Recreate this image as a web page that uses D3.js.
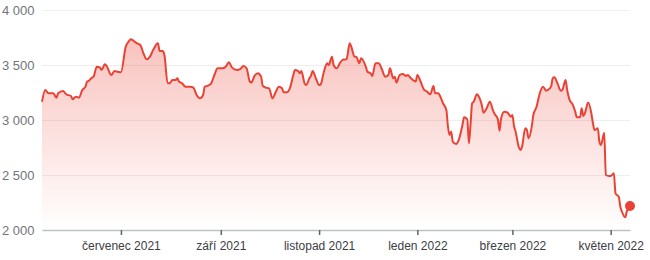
<!DOCTYPE html>
<html>
<head>
<meta charset="utf-8">
<script src="https://cdn.jsdelivr.net/npm/d3@7"></script>
<style>
  body { margin: 0; background: #fff; }
  svg { display: block; font-family: Roboto, "Noto Sans", sans-serif; }
</style>
</head>
<body>
<div id="chart"></div>
<script>
// price series
var dates = [
  "2021-05-13","2021-05-15","2021-05-17","2021-05-20","2021-05-22","2021-05-23","2021-05-26","2021-05-28","2021-05-31","2021-06-01",
  "2021-06-03","2021-06-05","2021-06-07","2021-06-09","2021-06-10","2021-06-11","2021-06-13","2021-06-14","2021-06-16","2021-06-18",
  "2021-06-19","2021-06-21","2021-06-22","2021-06-25","2021-06-27","2021-06-29","2021-07-01","2021-07-04","2021-07-06","2021-07-07",
  "2021-07-09","2021-07-11","2021-07-13","2021-07-15","2021-07-17","2021-07-19","2021-07-21","2021-07-24","2021-07-25","2021-07-27",
  "2021-07-28","2021-07-30","2021-07-31","2021-08-02","2021-08-04","2021-08-05","2021-08-06","2021-08-08","2021-08-10","2021-08-13",
  "2021-08-15","2021-08-17","2021-08-19","2021-08-21","2021-08-22","2021-08-24","2021-08-26","2021-08-28","2021-08-30","2021-09-02",
  "2021-09-04","2021-09-06","2021-09-08","2021-09-11","2021-09-13","2021-09-15","2021-09-17","2021-09-19","2021-09-20","2021-09-22",
  "2021-09-24","2021-09-26","2021-09-27","2021-09-29","2021-10-01","2021-10-03","2021-10-05","2021-10-07","2021-10-09","2021-10-10",
  "2021-10-12","2021-10-14","2021-10-16","2021-10-17","2021-10-19","2021-10-20","2021-10-21","2021-10-23","2021-10-24","2021-10-26",
  "2021-10-27","2021-10-28","2021-10-30","2021-11-01","2021-11-02","2021-11-04","2021-11-06","2021-11-07","2021-11-09","2021-11-10",
  "2021-11-12","2021-11-14","2021-11-16","2021-11-18","2021-11-20","2021-11-21","2021-11-23","2021-11-24","2021-11-26","2021-11-27",
  "2021-11-30","2021-12-01","2021-12-03","2021-12-04","2021-12-06","2021-12-08","2021-12-10","2021-12-12","2021-12-14","2021-12-15",
  "2021-12-17","2021-12-18","2021-12-19","2021-12-21","2021-12-23","2021-12-25","2021-12-26","2021-12-28","2021-12-31","2022-01-01",
  "2022-01-03","2022-01-05","2022-01-07","2022-01-09","2022-01-11","2022-01-12","2022-01-14","2022-01-15","2022-01-17","2022-01-19",
  "2022-01-20","2022-01-21","2022-01-22","2022-01-23","2022-01-25","2022-01-27","2022-01-29","2022-01-30","2022-02-01","2022-02-02",
  "2022-02-03","2022-02-04","2022-02-05","2022-02-07","2022-02-08","2022-02-10","2022-02-11","2022-02-13","2022-02-15","2022-02-17",
  "2022-02-18","2022-02-20","2022-02-21","2022-02-22","2022-02-24","2022-02-26","2022-02-28","2022-03-01","2022-03-02","2022-03-03",
  "2022-03-05","2022-03-06","2022-03-07","2022-03-09","2022-03-10","2022-03-11","2022-03-13","2022-03-14","2022-03-16","2022-03-18",
  "2022-03-20","2022-03-22","2022-03-23","2022-03-25","2022-03-26","2022-03-27","2022-03-29","2022-03-31","2022-04-01","2022-04-03",
  "2022-04-04","2022-04-06","2022-04-07","2022-04-09","2022-04-10","2022-04-12","2022-04-13","2022-04-14","2022-04-15","2022-04-17",
  "2022-04-19","2022-04-20","2022-04-21","2022-04-23","2022-04-24","2022-04-25","2022-04-27","2022-04-28","2022-04-30","2022-05-01",
  "2022-05-03","2022-05-04","2022-05-06","2022-05-07","2022-05-08","2022-05-10","2022-05-11","2022-05-13"
];

var prices = [
  3166,3273,3243,3243,3203,3243,3264,3234,3218,3188,
  3212,3203,3273,3303,3350,3355,3385,3394,3485,3476,
  3455,3506,3494,3409,3445,3439,3433,3667,3718,3734,
  3718,3697,3682,3606,3552,3576,3636,3697,3627,3627,
  3591,3333,3333,3364,3364,3379,3350,3333,3303,3303,
  3294,3227,3197,3227,3303,3312,3333,3409,3470,3470,
  3485,3524,3476,3455,3462,3491,3470,3350,3342,3403,
  3424,3394,3312,3294,3288,3197,3252,3303,3288,3252,
  3252,3294,3409,3455,3445,3424,3445,3333,3318,3379,
  3403,3445,3379,3318,3324,3439,3515,3500,3576,3500,
  3470,3520,3550,3552,3697,3667,3576,3576,3515,3561,
  3485,3439,3424,3400,3515,3515,3461,3394,3409,3470,
  3379,3394,3340,3409,3418,3400,3409,3379,3350,3409,
  3350,3279,3258,3234,3309,3243,3243,3220,3150,3091,
  2939,2864,2894,2803,2782,2833,2955,3024,3006,2788,
  2955,3152,3167,3234,3218,3136,3067,3106,3167,3085,
  3055,3006,2903,3015,3076,3067,3030,3045,2945,2894,
  2752,2727,2758,2924,2909,2833,2939,3045,3121,3243,
  3303,3267,3273,3303,3379,3388,3333,3267,3273,3364,
  3273,3167,3152,3076,3024,3024,3106,3036,3061,3158,
  3061,2970,2909,2924,2803,2773,2885,2500,2491,2491,
  2515,2333,2303,2212,2167,2115,2167,2218
];

var yTicks = [2000, 2500, 3000, 3500, 4000];
var yTickLabels = ["2 000", "2 500", "3 000", "3 500", "4 000"];

var xTicks = ["2021-07-01", "2021-09-01", "2021-11-01", "2022-01-01", "2022-03-01", "2022-05-01"];
var xTickLabels = ["červenec 2021", "září 2021", "listopad 2021", "leden 2022", "březen 2022", "květen 2022"];

var width = 650, height = 260;
var plotLeft = 42, plotRight = 630, plotTop = 10, plotBottom = 230;
var red = "#ea4335";

var parse = d3.utcParse("%Y-%m-%d");
var data = dates.map(function(d, i) { return { date: parse(d), value: prices[i] }; });

var svg = d3.select("#chart")
  .append("svg")
  .attr("width", width)
  .attr("height", height);

var xScale = d3.scaleUtc()
  .domain([parse("2021-05-13"), parse("2022-05-13")])
  .range([plotLeft, plotRight]);

var yScale = d3.scaleLinear()
  .domain([2000, 4000])
  .range([plotBottom, plotTop]);

// gradient under the line
var grad = svg.append("defs").append("linearGradient")
  .attr("id", "fade")
  .attr("gradientUnits", "userSpaceOnUse")
  .attr("x1", 0).attr("x2", 0)
  .attr("y1", yScale(d3.max(prices)))
  .attr("y2", plotBottom);
grad.append("stop").attr("offset", "0%").attr("stop-color", red).attr("stop-opacity", 0.32);
grad.append("stop").attr("offset", "100%").attr("stop-color", red).attr("stop-opacity", 0);

// grid lines + y labels
var yAxis = d3.axisLeft(yScale)
  .tickValues(yTicks)
  .tickFormat(function(d, i) { return yTickLabels[i]; })
  .tickSize(-(plotRight - plotLeft))
  .tickPadding(8);

var gy = svg.append("g")
  .attr("transform", `translate(${plotLeft},0)`)
  .call(yAxis);
gy.select(".domain").remove();
gy.selectAll(".tick line")
  .attr("stroke", function(d) { return d === 2000 ? "none" : "#eeeeee"; });
gy.selectAll(".tick text")
  .attr("x", -plotLeft + 2)
  .attr("text-anchor", "start")
  .attr("fill", "#70757a")
  .style("font-size", "13px");

var area = d3.area()
  .x(function(d) { return xScale(d.date); })
  .y0(plotBottom)
  .y1(function(d) { return yScale(d.value); })
  .curve(d3.curveMonotoneX);

var line = d3.line()
  .x(function(d) { return xScale(d.date); })
  .y(function(d) { return yScale(d.value); })
  .curve(d3.curveMonotoneX);

svg.append("path")
  .datum(data)
  .attr("d", area)
  .attr("fill", "url(#fade)");

// x axis
var xAxis = d3.axisBottom(xScale)
  .tickValues(xTicks.map(parse))
  .tickFormat(function(d, i) { return xTickLabels[i]; })
  .tickSize(5)
  .tickSizeOuter(0)
  .tickPadding(6);

var gx = svg.append("g")
  .attr("transform", `translate(0,${plotBottom})`)
  .call(xAxis);
gx.select(".domain")
  .attr("stroke", "#bdc1c6")
  .attr("stroke-width", 1.5);
gx.selectAll(".tick line")
  .attr("stroke", "#5f6368")
  .attr("stroke-width", 1.5);
gx.selectAll(".tick text")
  .attr("fill", "#3c4043")
  .style("font-size", "12px");

svg.append("path")
  .datum(data)
  .attr("d", line)
  .attr("fill", "none")
  .attr("stroke", red)
  .attr("stroke-width", 2)
  .attr("stroke-linejoin", "round");

var last = data[data.length - 1];
svg.append("circle")
  .attr("cx", xScale(last.date))
  .attr("cy", yScale(last.value))
  .attr("r", 5)
  .attr("fill", red);
</script>
</body>
</html>
